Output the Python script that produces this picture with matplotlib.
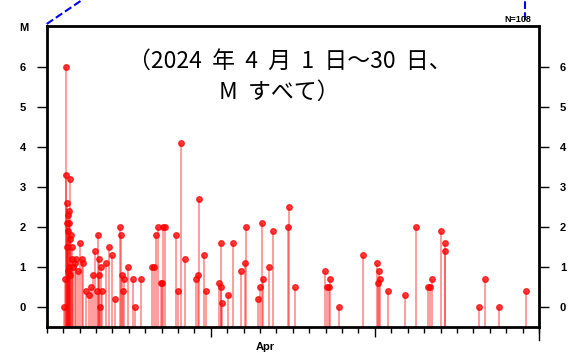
import numpy as np
import matplotlib.pyplot as plt

# days since 2024-04-01 00:00 and magnitude of each event
days = [1.07, 1.11, 1.17, 1.19, 1.21, 1.23, 1.25, 1.28, 1.30, 1.32,
        1.34, 1.36, 1.38, 1.40, 1.42, 1.45, 1.48, 1.52, 1.56, 1.62,
        1.72, 1.80, 1.88, 2.02, 2.13, 2.23, 2.39, 2.55, 2.73, 2.83,
        2.94, 3.04, 3.14, 3.17, 3.20, 3.24, 3.28, 3.34, 3.60, 3.81,
        3.97, 4.15, 4.46, 4.50, 4.56, 4.62, 4.70, 4.96, 5.27, 5.39,
        5.73, 6.44, 6.52, 6.64, 6.77, 6.97, 7.05, 7.09, 7.21, 7.86,
        8.00, 8.20, 8.45, 9.08, 9.20, 9.26, 9.56, 9.70, 10.49, 10.62,
        10.64, 10.70, 11.04, 11.35, 11.87, 12.10, 12.12, 12.87, 12.97, 13.09,
        13.17, 13.57, 13.78, 14.71, 14.77, 15.11, 16.96, 17.08, 17.22, 17.28,
        17.83, 19.29, 20.14, 20.20, 20.24, 20.30, 20.81, 21.86, 22.53, 23.24,
        23.34, 23.46, 24.03, 24.27, 24.29, 26.36, 26.73, 27.58, 29.22]
mags = [0.0, 0.7, 6.0, 3.3, 2.1, 1.5, 2.6, 2.3, 0.9, 1.9,
        2.4, 1.0, 2.1, 1.7, 3.2, 0.8, 1.8, 1.2, 1.5, 1.0,
        1.1, 1.2, 0.9, 1.6, 1.2, 1.1, 0.4, 0.3, 0.5, 0.8,
        1.4, 0.4, 1.8, 1.2, 0.8, 0.0, 1.0, 0.4, 1.1, 1.5,
        1.3, 0.2, 2.0, 1.8, 0.8, 0.4, 0.7, 1.0, 0.7, 0.0,
        0.7, 1.0, 1.0, 1.8, 2.0, 0.6, 0.6, 2.0, 2.0, 1.8,
        0.4, 4.1, 1.2, 0.7, 0.8, 2.7, 1.3, 0.4, 0.6, 0.5,
        1.6, 0.1, 0.3, 1.6, 0.9, 1.1, 2.0, 0.2, 0.5, 2.1,
        0.7, 1.0, 1.9, 2.0, 2.5, 0.5, 0.9, 0.5, 0.5, 0.7,
        0.0, 1.3, 1.1, 0.6, 0.9, 0.7, 0.4, 0.3, 2.0, 0.5,
        0.5, 0.7, 1.9, 1.4, 1.6, 0.0, 0.7, 0.0, 0.4]

ytick_vals = [0, 1, 2, 3, 4, 5, 6]
title_lines = ["（2024  年  4  月  1  日～30  日、", "M  すべて）"]
count_label = "N=108"
month_label = "Apr"

W, H = 582, 354
fig = plt.figure(figsize=(W / 100, H / 100), dpi=100)
ax = fig.add_axes([46.7 / W, 1 - 327 / H, (539 - 46.7) / W, (327 - 26) / H])

ax.vlines(days, -0.5, mags, color='red', alpha=0.45, lw=1.2)
ax.plot(days, mags, 'o', color='red', alpha=0.75, ms=4, mec='red')

ax.set_xlim(0, 30)
ax.set_ylim(-0.5, 7.02)

for s in ax.spines.values():
    s.set_linewidth(2)

lab_font = dict(family='Liberation Sans', weight='bold', size=8)
ax.set_yticks(ytick_vals)
ax.set_yticklabels([str(v) for v in ytick_vals], fontdict=lab_font)
ax.tick_params(axis='y', which='major', direction='out', length=7, width=1,
               left=True, right=True, labelleft=True, labelright=True, pad=8)
ax.set_xticks([10, 20])
ax.set_xticks(np.arange(0, 31), minor=True)
ax.set_xticklabels([])
ax.tick_params(axis='x', which='major', direction='out', length=7, width=1)
ax.tick_params(axis='x', which='minor', direction='out', length=4, width=1)
# longer tick at the month boundary
ax.plot([30, 30], [0, -13 / 301], transform=ax.get_xaxis_transform(),
        color='black', lw=1, clip_on=False)

ax.text(13.3, -0.067, month_label, transform=ax.get_xaxis_transform(),
        ha='center', va='center', fontdict=lab_font)

fig.text(24 / W, 1 - 28 / H, "M", ha='center', va='center', fontdict=lab_font)
fig.text(518 / W, 1 - 19 / H, count_label, ha='center', va='center',
         family='Liberation Sans', weight='bold', size=6.5)

jp = ['Noto Sans CJK JP', 'DejaVu Sans']
fig.text(290 / W, 1 - 61 / H, title_lines[0], ha='center', va='center',
         family=jp, size=16.5)
fig.text(279 / W, 1 - 92 / H, title_lines[1], ha='center', va='center',
         family=jp, size=16.5)

# dashed connector lines from the surrounding figure
fig.add_artist(plt.Line2D([46.7 / W, 82 / W], [1 - 24 / H, 1.0], color='blue',
                          ls='--', lw=1.5))
fig.add_artist(plt.Line2D([525 / W, 525 / W], [1 - 20 / H, 1.0], color='blue',
                          ls='--', lw=1.5))

fig.savefig('out.png', dpi=100)
